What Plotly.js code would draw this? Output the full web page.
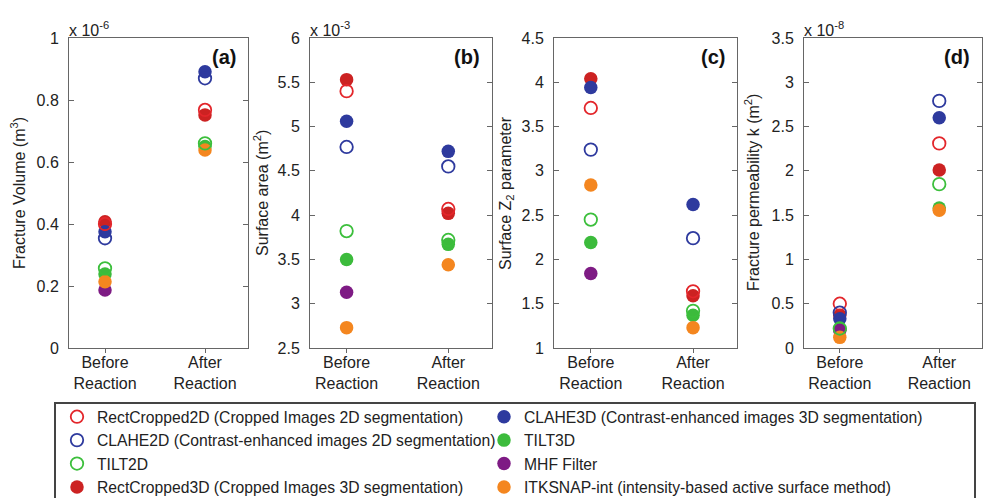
<!DOCTYPE html>
<html>
<head>
<meta charset="utf-8">
<script src="https://cdn.plot.ly/plotly-3.0.1.min.js"></script>
<style>html,body{margin:0;padding:0;background:#fff;}#chart{width:985px;height:498px;}</style>
</head>
<body>
<div id="chart"></div>
<script>
// ---- data ----
const categories = ['Before<br>Reaction', 'After<br>Reaction'];
const methods = [
  'RectCropped2D (Cropped Images 2D segmentation)',
  'CLAHE2D (Contrast-enhanced images 2D segmentation)',
  'TILT2D',
  'RectCropped3D (Cropped Images 3D segmentation)',
  'CLAHE3D (Contrast-enhanced images 3D segmentation)',
  'TILT3D',
  'MHF Filter',
  'ITKSNAP-int (intensity-based active surface method)'
];
const methodColors = ['#e3262b', '#2e3a9e', '#3cbf3c', '#cc2222', '#2e3a9e', '#3cbb3c', '#7e1b84', '#f4861f'];
const methodFilled = [false, false, false, true, true, true, true, true];

// (a) Fracture volume, x 10^-6 m^3
const volumeBefore = [0.400, 0.354, 0.257, 0.407, 0.375, 0.239, 0.187, 0.214];
const volumeAfter  = [0.768, 0.870, 0.660, 0.752, 0.891, 0.650, null, 0.639];
// (b) Surface area, x 10^-3 m^2
const areaBefore = [5.40, 4.77, 3.82, 5.53, 5.06, 3.50, 3.13, 2.73];
const areaAfter  = [4.07, 4.55, 3.72, 4.02, 4.72, 3.67, null, 3.44];
// (c) Surface Z2 parameter
const z2Before = [3.71, 3.24, 2.45, 4.04, 3.94, 2.19, 1.84, 2.84];
const z2After  = [1.64, 2.24, 1.42, 1.59, 2.62, 1.37, null, 1.23];
// (d) Fracture permeability, x 10^-8 m^2
const permBefore = [0.50, 0.40, 0.22, 0.37, 0.33, 0.21, 0.20, 0.12];
const permAfter  = [2.31, 2.79, 1.85, 2.01, 2.60, 1.58, null, 1.555];

const panelLabels = ['(a)', '(b)', '(c)', '(d)'];
const panelTitles = ['Fracture Volume (m<sup>3</sup>)', 'Surface area (m<sup>2</sup>)',
                     'Surface Z<sub>2</sub> parameter', 'Fracture permeability k (m<sup>2</sup>)'];
const panelExponents = ['x 10<sup>-6</sup>', 'x 10<sup>-3</sup>', '', 'x 10<sup>-8</sup>'];
const panelRanges = [[0, 1], [2.5, 6], [1, 4.5], [0, 3.5]];
const panelDticks = [0.2, 0.5, 0.5, 0.5];

// ---- layout helpers ----
const W = 985, H = 498;
const FONT = 'Liberation Sans, Arial, sans-serif';
const xDomainsPx = [[69, 248], [310, 492], [554, 737], [804, 982]];
const yTopPx = 38, yBotPx = 348;
const titleXPx = [18, 261, 507, 752];

const panelBefore = [volumeBefore, areaBefore, z2Before, permBefore];
const panelAfter = [volumeAfter, areaAfter, z2After, permAfter];

const drawOrder = [3, 4, 5, 6, 7, 0, 1, 2];
const legendOf = [0, 0, 0, 0, 1, 1, 1, 1];
const traces = [];
for (let p = 0; p < 4; p++) {
  for (const m of drawOrder) {
    const filled = methodFilled[m];
    traces.push({
      type: 'scatter', mode: 'markers',
      x: categories,
      y: [panelBefore[p][m], panelAfter[p][m]],
      name: methods[m],
      xaxis: p === 0 ? 'x' : 'x' + (p + 1),
      yaxis: p === 0 ? 'y' : 'y' + (p + 1),
      showlegend: p === 0,
      legend: legendOf[m] === 0 ? 'legend' : 'legend2',
      legendrank: m + 1,
      marker: filled
        ? {symbol: 'circle', size: 13.5, color: methodColors[m], line: {width: 0}}
        : {symbol: 'circle-open', size: 12.5, color: methodColors[m], line: {width: 1.8, color: methodColors[m]}},
      hoverinfo: 'name+y'
    });
  }
}

const legendCommon = {
  orientation: 'v', xanchor: 'left', y: 1 - 400 / H, yanchor: 'top',
  bgcolor: 'rgba(0,0,0,0)', borderwidth: 0, traceorder: 'normal',
  font: {family: FONT, size: 15.7, color: '#222'}
};

const layout = {
  width: W, height: H,
  margin: {l: 0, r: 0, t: 0, b: 0, autoexpand: false},
  paper_bgcolor: '#fff', plot_bgcolor: '#fff',
  font: {family: FONT, size: 16, color: '#222'},
  showlegend: true,
  legend: Object.assign({}, legendCommon, {x: 57 / W}),
  legend2: Object.assign({}, legendCommon, {x: 484 / W}),
  annotations: [],
  shapes: [{
    type: 'rect', xref: 'paper', yref: 'paper',
    x0: 55 / W, x1: 975 / W, y0: 1 - 403 / H, y1: -0.1,
    line: {color: '#444', width: 2}, fillcolor: 'rgba(0,0,0,0)'
  }]
};

for (let p = 0; p < 4; p++) {
  const xk = p === 0 ? 'xaxis' : 'xaxis' + (p + 1);
  const yk = p === 0 ? 'yaxis' : 'yaxis' + (p + 1);
  const yid = p === 0 ? 'y' : 'y' + (p + 1);
  const xid = p === 0 ? 'x' : 'x' + (p + 1);
  layout[xk] = {
    domain: [xDomainsPx[p][0] / W, xDomainsPx[p][1] / W],
    anchor: yid, type: 'category', range: [-0.36, 1.43],
    showline: true, mirror: true, linecolor: '#666', linewidth: 1,
    ticks: 'outside', ticklen: 4, tickcolor: '#666',
    ticklabelstandoff: -4,
    showgrid: false, zeroline: false, fixedrange: true,
    tickfont: {family: FONT, size: 16, color: '#222'}
  };
  layout[yk] = {
    domain: [1 - yBotPx / H, 1 - yTopPx / H],
    anchor: xid, range: panelRanges[p], dtick: panelDticks[p], tick0: 0,
    showline: true, mirror: 'ticks', linecolor: '#666', linewidth: 1,
    ticks: 'inside', ticklen: 5, tickcolor: '#666',
    showgrid: false, zeroline: false, fixedrange: true,
    ticklabelstandoff: 6,
    tickfont: {family: FONT, size: 16, color: '#222'}
  };
  layout.annotations.push({
    xref: 'paper', yref: 'paper', x: titleXPx[p] / W, y: 1 - (yTopPx + yBotPx) / 2 / H,
    text: panelTitles[p], textangle: -90, showarrow: false,
    xanchor: 'center', yanchor: 'middle',
    font: {family: FONT, size: 16, color: '#222'}
  });
  layout.annotations.push({
    xref: xid + ' domain', yref: yid + ' domain', x: 1, y: 1,
    xshift: -10, yshift: -19, xanchor: 'right', yanchor: 'middle',
    text: '<b>' + panelLabels[p] + '</b>', showarrow: false,
    font: {family: FONT, size: 20, color: '#111'}
  });
  if (panelExponents[p]) {
    layout.annotations.push({
      xref: xid + ' domain', yref: yid + ' domain', x: 0, y: 1,
      xshift: -2, yshift: -3, xanchor: 'left', yanchor: 'bottom',
      text: panelExponents[p], showarrow: false,
      font: {family: FONT, size: 16, color: '#222'}
    });
  }
}

Plotly.newPlot('chart', traces, layout, {displayModeBar: false});
</script>
</body>
</html>
